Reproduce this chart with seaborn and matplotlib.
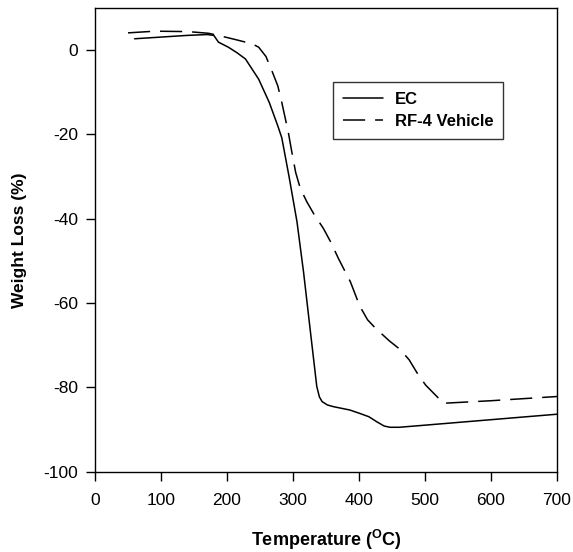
import numpy as np
import pandas as pd
import seaborn as sns
import matplotlib.pyplot as plt

# values (temperature in C, weight loss in %)
ec_temp = [60, 100, 140, 170, 180, 187, 202, 215, 228, 248, 264, 277, 283, 294, 306, 316, 326,
           336, 340, 344, 352, 361, 386, 401, 415, 427, 438, 447, 461, 500, 600, 700]
ec_loss = [2.7, 3.1, 3.5, 3.7, 3.5, 1.9, 0.7, -0.6, -2.1, -6.9, -12.4, -18.0, -20.8, -30.0, -40.7,
           -52.7, -66.3, -79.8, -82.3, -83.4, -84.2, -84.6, -85.4, -86.2, -87.0, -88.2, -89.2, -89.5,
           -89.5, -89.0, -87.7, -86.4]

rf_temp = [50, 91, 141, 172, 192, 213, 238, 248, 259, 269, 277, 283, 293, 298, 304, 311, 321, 332,
           346, 357, 369, 387, 401, 413, 422, 432, 446, 462, 476, 488, 501, 518, 528, 600, 700]
rf_loss = [4.1, 4.5, 4.4, 4.0, 3.3, 2.5, 1.5, 0.7, -1.5, -5.3, -8.5, -12.4, -19.6, -24.0, -29.0,
           -32.8, -36.0, -39.0, -42.3, -45.5, -49.5, -55.0, -60.7, -64.0, -65.5, -67.0, -69.0,
           -71.0, -73.5, -76.6, -79.5, -82.2, -83.8, -83.2, -82.2]

labels = ["EC", "RF-4 Vehicle"]

df = pd.concat([
    pd.DataFrame({"temp": ec_temp, "loss": ec_loss, "sample": labels[0]}),
    pd.DataFrame({"temp": rf_temp, "loss": rf_loss, "sample": labels[1]}),
])

sns.set_style("ticks")
plt.rcParams["font.family"] = ["Liberation Sans", "DejaVu Sans"]
plt.rcParams["axes.unicode_minus"] = False
plt.rcParams["text.color"] = "black"
plt.rcParams["axes.labelcolor"] = "black"
plt.rcParams["mathtext.fontset"] = "custom"
plt.rcParams["mathtext.rm"] = "Liberation Sans"
plt.rcParams["mathtext.bf"] = "Liberation Sans:bold"

fig = plt.figure(figsize=(5.73, 5.52), dpi=100)
ax = fig.add_axes([0.1658, 0.1458, 0.8063, 0.8397])

sns.lineplot(data=df, x="temp", y="loss", hue="sample", style="sample",
             palette=["black", "black"], dashes=[(None, None), (14.5, 6.5)],
             linewidth=1.1, estimator=None, sort=False, ax=ax)

ax.set_xlim(0, 700)
ax.set_ylim(-100, 10)
ax.set_xticks(range(0, 701, 100))
ax.set_yticks(range(-100, 1, 20))
ax.tick_params(direction="out", length=6.5, width=1, labelsize=12.5, colors="black")
ax.tick_params(axis="x", pad=9)
ax.tick_params(axis="y", pad=5.5)
for s in ax.spines.values():
    s.set_linewidth(1)
    s.set_color("black")

ax.set_xlabel(r"Temperature ($\mathbf{^{O}}$C)", fontsize=13, fontweight="bold", labelpad=14)
ax.set_ylabel("Weight Loss (%)", fontsize=12.5, fontweight="bold", labelpad=12)

leg = ax.legend(title=None, loc="upper left", bbox_to_anchor=(0.515, 0.84),
                fancybox=False, frameon=True, edgecolor="black", borderpad=0.6,
                borderaxespad=0, handlelength=2.4, handletextpad=0.7,
                labelspacing=0.4, fontsize=12)
leg.get_frame().set_linewidth(1)
for t in leg.get_texts():
    t.set_fontweight("bold")

fig.savefig("out.png", dpi=100)
